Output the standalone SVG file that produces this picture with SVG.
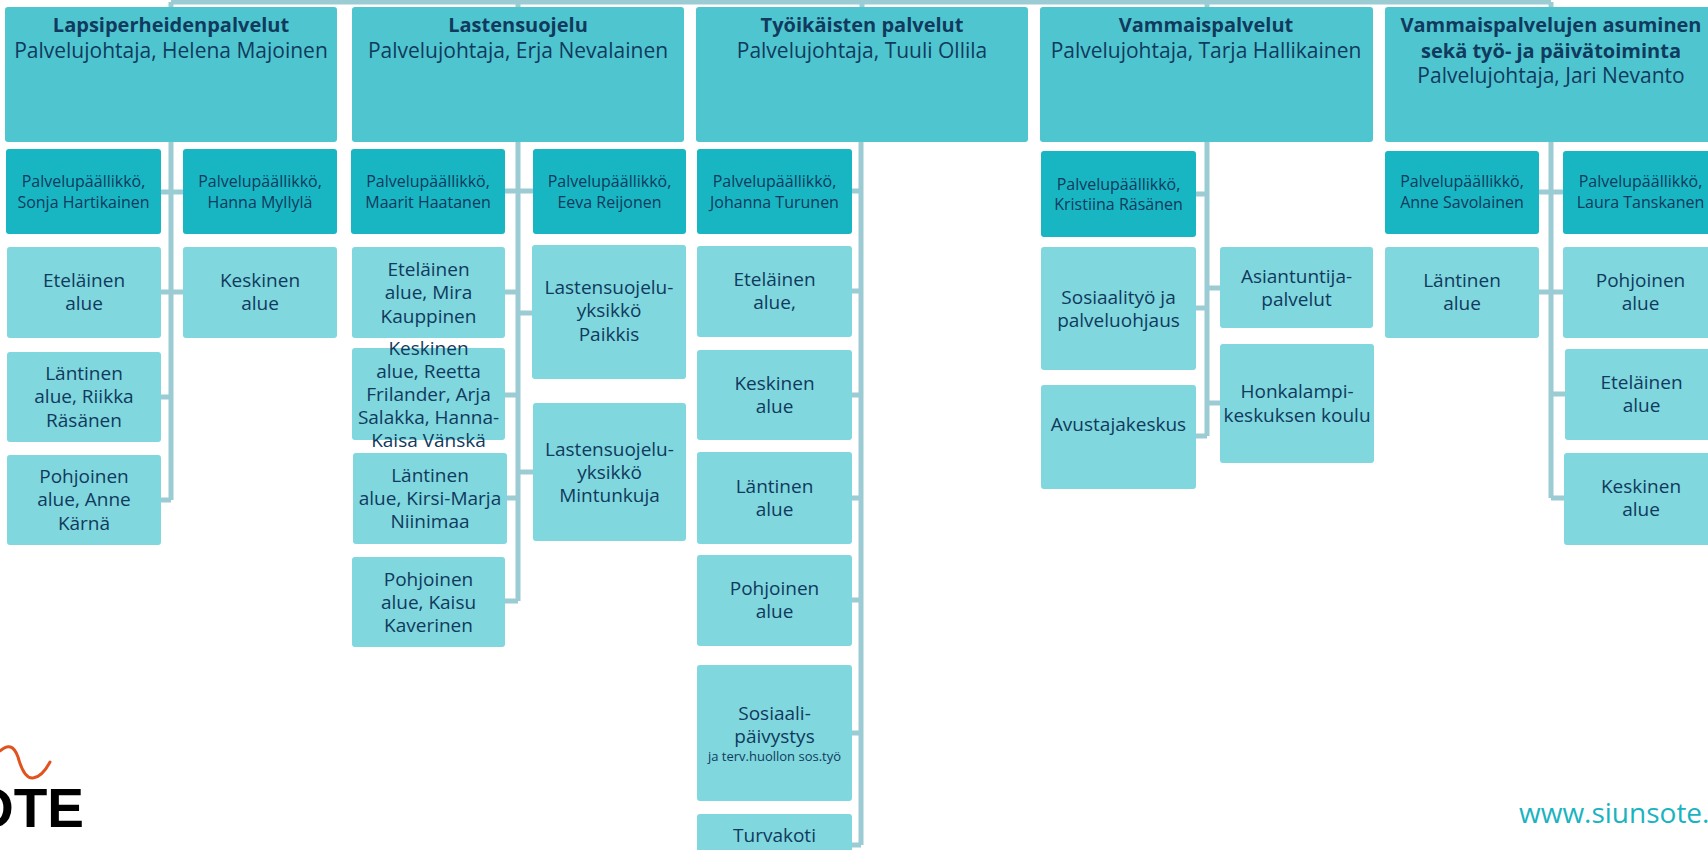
<svg xmlns="http://www.w3.org/2000/svg" width="1708" height="850" viewBox="0 0 1708 850">
<style>
text{font-family:"Open Sans","Noto Sans","DejaVu Sans",sans-serif;fill:#103A5E;text-anchor:middle}
.top{fill:#4FC6CF}
.pp{fill:#18B6C2}
.ar{fill:#80D7DD}
.t{font-size:20px;font-weight:700}
.s{font-size:21px}
.p{font-size:16px}
.a{font-size:19px}
.sm{font-size:13px}
.c{stroke:#9BCBD3;stroke-width:5;fill:none}
</style>
<rect width="1708" height="850" fill="#ffffff"/>

<g id="connectors">
<path class="c" d="M171,2 H1551 M171,2 V7 M518,2 V7 M862,2 V7 M1207,2 V7 M1551,2 V7"/>
<path class="c" d="M171,142 V500 M161,192 H183 M161,292 H183 M161,397 H171 M161,500 H171"/>
<path class="c" d="M518,142 V601 M505,191 H533 M505,292 H518 M518,313 H532 M505,395 H518 M518,472 H533 M505,498 H518 M505,601 H518"/>
<path class="c" d="M861,142 V845 M852,191 H861 M852,291 H861 M852,395 H861 M852,498 H861 M852,600 H861 M852,733 H861 M852,845 H861"/>
<path class="c" d="M1207,142 V436 M1196,194 H1207 M1207,288 H1220 M1196,308 H1207 M1207,403 H1220 M1196,436 H1207"/>
<path class="c" d="M1551,142 V498 M1539,192 H1563 M1539,292 H1563 M1551,394 H1565 M1551,498 H1564"/>
</g>

<g id="t1"><rect class="top" x="5" y="7" width="332" height="135" rx="3"/><text class="t" x="171" y="32">Lapsiperheidenpalvelut</text><text class="s" x="171" y="58">Palvelujohtaja, Helena Majoinen</text></g>
<g id="t2"><rect class="top" x="352" y="7" width="332" height="135" rx="3"/><text class="t" x="518" y="32">Lastensuojelu</text><text class="s" x="518" y="58">Palvelujohtaja, Erja Nevalainen</text></g>
<g id="t3"><rect class="top" x="696" y="7" width="332" height="135" rx="3"/><text class="t" x="862" y="32">Työikäisten palvelut</text><text class="s" x="862" y="58">Palvelujohtaja, Tuuli Ollila</text></g>
<g id="t4"><rect class="top" x="1040" y="7" width="333" height="135" rx="3"/><text class="t" x="1206" y="32">Vammaispalvelut</text><text class="s" x="1206" y="58">Palvelujohtaja, Tarja Hallikainen</text></g>
<g id="t5"><rect class="top" x="1385" y="7" width="340" height="135" rx="3"/><text class="t" x="1551" y="32">Vammaispalvelujen asuminen</text><text class="t" x="1551" y="58">sekä työ- ja päivätoiminta</text><text class="s" x="1551" y="83">Palvelujohtaja, Jari Nevanto</text></g>

<!-- column 1 -->
<g id="pp1a"><rect class="pp" x="6" y="149" width="155" height="85" rx="3"/><text class="p" x="83.5" y="187">Palvelupäällikkö,</text><text class="p" x="83.5" y="208">Sonja Hartikainen</text></g>
<g id="pp1b"><rect class="pp" x="183" y="149" width="154" height="85" rx="3"/><text class="p" x="260" y="187">Palvelupäällikkö,</text><text class="p" x="260" y="208">Hanna Myllylä</text></g>
<g id="a1"><rect class="ar" x="7" y="247" width="154" height="91" rx="3"/><text class="a" x="84" y="287">Eteläinen</text><text class="a" x="84" y="310">alue</text></g>
<g id="a2"><rect class="ar" x="183" y="247" width="154" height="91" rx="3"/><text class="a" x="260" y="287">Keskinen</text><text class="a" x="260" y="310">alue</text></g>
<g id="a3"><rect class="ar" x="7" y="352" width="154" height="90" rx="3"/><text class="a" x="84" y="380">Läntinen</text><text class="a" x="84" y="403">alue, Riikka</text><text class="a" x="84" y="427">Räsänen</text></g>
<g id="a4"><rect class="ar" x="7" y="455" width="154" height="90" rx="3"/><text class="a" x="84" y="483">Pohjoinen</text><text class="a" x="84" y="506">alue, Anne</text><text class="a" x="84" y="530">Kärnä</text></g>

<!-- column 2 -->
<g id="pp2a"><rect class="pp" x="351" y="149" width="154" height="85" rx="3"/><text class="p" x="428" y="187">Palvelupäällikkö,</text><text class="p" x="428" y="208">Maarit Haatanen</text></g>
<g id="pp2b"><rect class="pp" x="533" y="149" width="153" height="85" rx="3"/><text class="p" x="609.5" y="187">Palvelupäällikkö,</text><text class="p" x="609.5" y="208">Eeva Reijonen</text></g>
<g id="b1"><rect class="ar" x="352" y="247" width="153" height="91" rx="3"/><text class="a" x="428.5" y="276">Eteläinen</text><text class="a" x="428.5" y="299">alue, Mira</text><text class="a" x="428.5" y="323">Kauppinen</text></g>
<g id="b2"><rect class="ar" x="352" y="348" width="153" height="92" rx="3"/><text class="a" x="428.5" y="355">Keskinen</text><text class="a" x="428.5" y="378">alue, Reetta</text><text class="a" x="428.5" y="401">Frilander, Arja</text><text class="a" x="428.5" y="424">Salakka, Hanna-</text><text class="a" x="428.5" y="447">Kaisa Vänskä</text></g>
<g id="b3"><rect class="ar" x="353" y="453" width="154" height="91" rx="3"/><text class="a" x="430" y="482">Läntinen</text><text class="a" x="430" y="505">alue, Kirsi-Marja</text><text class="a" x="430" y="528">Niinimaa</text></g>
<g id="b4"><rect class="ar" x="352" y="557" width="153" height="90" rx="3"/><text class="a" x="428.5" y="586">Pohjoinen</text><text class="a" x="428.5" y="609">alue, Kaisu</text><text class="a" x="428.5" y="632">Kaverinen</text></g>
<g id="p1"><rect class="ar" x="532" y="245" width="154" height="134" rx="3"/><text class="a" x="609" y="294">Lastensuojelu-</text><text class="a" x="609" y="317">yksikkö</text><text class="a" x="609" y="341">Paikkis</text></g>
<g id="p2"><rect class="ar" x="533" y="403" width="153" height="138" rx="3"/><text class="a" x="609.5" y="456">Lastensuojelu-</text><text class="a" x="609.5" y="479">yksikkö</text><text class="a" x="609.5" y="502">Mintunkuja</text></g>

<!-- column 3 -->
<g id="pp3"><rect class="pp" x="697" y="149" width="155" height="85" rx="3"/><text class="p" x="774.5" y="187">Palvelupäällikkö,</text><text class="p" x="774.5" y="208">Johanna Turunen</text></g>
<g id="c1"><rect class="ar" x="697" y="246" width="155" height="91" rx="3"/><text class="a" x="774.5" y="286">Eteläinen</text><text class="a" x="774.5" y="309">alue,</text></g>
<g id="c2"><rect class="ar" x="697" y="350" width="155" height="90" rx="3"/><text class="a" x="774.5" y="390">Keskinen</text><text class="a" x="774.5" y="413">alue</text></g>
<g id="c3"><rect class="ar" x="697" y="452" width="155" height="92" rx="3"/><text class="a" x="774.5" y="493">Läntinen</text><text class="a" x="774.5" y="516">alue</text></g>
<g id="c4"><rect class="ar" x="697" y="555" width="155" height="91" rx="3"/><text class="a" x="774.5" y="595">Pohjoinen</text><text class="a" x="774.5" y="618">alue</text></g>
<g id="c5"><rect class="ar" x="697" y="665" width="155" height="136" rx="3"/><text class="a" x="774.5" y="720">Sosiaali-</text><text class="a" x="774.5" y="743">päivystys</text><text class="sm" x="774.5" y="761">ja terv.huollon sos.työ</text></g>
<g id="c6"><rect class="ar" x="697" y="814" width="155" height="62" rx="3"/><text class="a" x="774.5" y="842">Turvakoti</text></g>

<!-- column 4 -->
<g id="pp4"><rect class="pp" x="1041" y="151" width="155" height="86" rx="3"/><text class="p" x="1118.5" y="190">Palvelupäällikkö,</text><text class="p" x="1118.5" y="210">Kristiina Räsänen</text></g>
<g id="d1"><rect class="ar" x="1041" y="247" width="155" height="123" rx="3"/><text class="a" x="1118.5" y="304">Sosiaalityö ja</text><text class="a" x="1118.5" y="327">palveluohjaus</text></g>
<g id="d2"><rect class="ar" x="1041" y="385" width="155" height="104" rx="3"/><text class="a" x="1118.5" y="431">Avustajakeskus</text></g>
<g id="d3"><rect class="ar" x="1220" y="247" width="153" height="81" rx="3"/><text class="a" x="1296.5" y="283">Asiantuntija-</text><text class="a" x="1296.5" y="306">palvelut</text></g>
<g id="d4"><rect class="ar" x="1220" y="344" width="154" height="119" rx="3"/><text class="a" x="1297" y="398">Honkalampi-</text><text class="a" x="1297" y="422">keskuksen koulu</text></g>

<!-- column 5 -->
<g id="pp5a"><rect class="pp" x="1385" y="151" width="154" height="83" rx="3"/><text class="p" x="1462" y="187">Palvelupäällikkö,</text><text class="p" x="1462" y="208">Anne Savolainen</text></g>
<g id="pp5b"><rect class="pp" x="1563" y="151" width="155" height="83" rx="3"/><text class="p" x="1640.5" y="187">Palvelupäällikkö,</text><text class="p" x="1640.5" y="208">Laura Tanskanen</text></g>
<g id="e1"><rect class="ar" x="1385" y="247" width="154" height="91" rx="3"/><text class="a" x="1462" y="287">Läntinen</text><text class="a" x="1462" y="310">alue</text></g>
<g id="e2"><rect class="ar" x="1563" y="247" width="155" height="91" rx="3"/><text class="a" x="1640.5" y="287">Pohjoinen</text><text class="a" x="1640.5" y="310">alue</text></g>
<g id="e3"><rect class="ar" x="1565" y="349" width="153" height="91" rx="3"/><text class="a" x="1641.5" y="389">Eteläinen</text><text class="a" x="1641.5" y="412">alue</text></g>
<g id="e4"><rect class="ar" x="1564" y="453" width="154" height="92" rx="3"/><text class="a" x="1641" y="493">Keskinen</text><text class="a" x="1641" y="516">alue</text></g>

<g id="logo">
<path d="M0,751 Q12,740 18,757 Q24,779 33,778 Q42,777 50,762" fill="none" stroke="#E0531F" stroke-width="3" stroke-linecap="round"/>
<text x="84" y="827" style="font-family:'Liberation Sans',Arial,sans-serif;font-weight:700;font-size:55px;fill:#000000;text-anchor:end">OTE</text>
</g>
<g id="url"><text x="1519" y="823" style="font-size:28px;fill:#1AB3C1;text-anchor:start">www.siunsote.fi</text></g>
</svg>
